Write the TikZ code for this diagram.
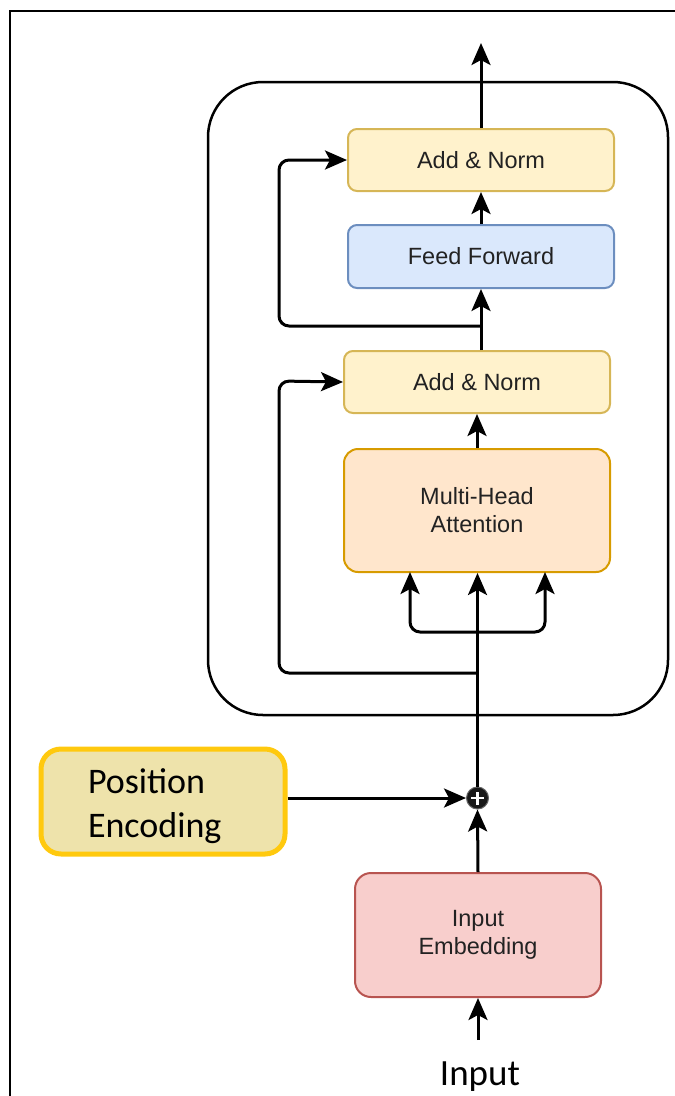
\documentclass[tikz,border=0pt]{standalone}
\usepackage{fontspec}
\setmainfont{Liberation Sans}
\newfontfamily\calibri{Carlito}
\usetikzlibrary{arrows.meta}
\definecolor{normfill}{HTML}{FFF2CC}
\definecolor{normline}{HTML}{D6B656}
\definecolor{fffill}{HTML}{DAE8FC}
\definecolor{ffline}{HTML}{6C8EBF}
\definecolor{attfill}{HTML}{FFE6CC}
\definecolor{attline}{HTML}{D79B00}
\definecolor{embfill}{HTML}{F8CECC}
\definecolor{embline}{HTML}{B85450}
\definecolor{posfill}{HTML}{EEE3AB}
\definecolor{posline}{HTML}{FFC90E}
\definecolor{txt}{HTML}{222222}
\begin{document}
\begin{tikzpicture}[x=1pt,y=-1pt,
  block/.style={draw, line width=2pt, rounded corners=9pt, text=txt,
    font=\fontsize{23.5}{28}\selectfont, align=center, inner sep=0pt},
  wire/.style={line width=3pt, draw=black, rounded corners=10pt},
  arr/.style={wire, -{Stealth[length=22pt,width=19pt,inset=5pt]}}]
\useasboundingbox (0,0) rectangle (675,1096);
% outer frame
\draw[line width=1.5pt] (10,1110) -- (10,11) -- (690,11);
% encoder container
\draw[line width=2.5pt, rounded corners=55pt] (208,82) rectangle (668,715);

% blocks
\node[block, fill=normfill, draw=normline, minimum width=266pt, minimum height=62pt]
  (an1) at (481,160) {Add \& Norm};
\node[block, fill=fffill, draw=ffline, minimum width=266pt, minimum height=63pt]
  (ff) at (481,256.5) {Feed Forward};
\node[block, fill=normfill, draw=normline, minimum width=266pt, minimum height=62pt]
  (an2) at (477,382) {Add \& Norm};
\node[block, fill=attfill, draw=attline, minimum width=266pt, minimum height=123pt,
  rounded corners=14pt] (mha) at (477,510.5) {Multi-Head\\Attention};
\node[block, fill=embfill, draw=embline, minimum width=246pt, minimum height=124pt,
  rounded corners=16pt] (emb) at (478,935) {Input\\Embedding};
\node[block, fill=posfill, draw=posline, line width=5pt, minimum width=244pt,
  minimum height=105pt, rounded corners=20pt] (pos) at (163,801.5) {};
\node[text=black, font=\calibri\fontsize{36}{44}\selectfont, align=left,
  text width=150pt, inner sep=0pt] (postext) at (163,806) {Position\\Encoding};
\node[circle, fill=black!90, draw=black!60, line width=1pt, minimum size=22pt,
  inner sep=0pt] (plus) at (477.5,798) {};
\draw[white, line width=2.8pt] ([xshift=-6.5pt]plus.center) -- ([xshift=6.5pt]plus.center)
  ([yshift=-6.5pt]plus.center) -- ([yshift=6.5pt]plus.center);
\node[font=\calibri\fontsize{37}{44}\selectfont, text=black] (inp) at (480,1077) {Input};

% free ends and junctions
\coordinate (out) at (481,43);
\coordinate (inarrow) at (478,1040);
\coordinate (split) at (477.5,632);
\coordinate (res1) at (477.5,673);
\coordinate (res2) at (481,326);

% data path
\draw[arr] (inarrow) -- (emb.south);
\draw[arr] (emb.north) -- (plus.south);
\draw[arr] (pos.east |- plus.west) -- (plus.west);
\draw[arr] (plus.north) -- (plus.north |- mha.south);
\draw[arr] (split) -- (410,632) -- (410,572);
\draw[arr] (split) -- (545,632) -- (545,572);
\draw[arr] (res1) -- (279,673) -- (279,381) -- (an2.west);
\draw[arr] (mha.north) -- (an2.south);
\draw[arr] (an2.north -| 481,0) -- (ff.south);
\draw[arr] (res2) -- (279,326) -- (279,160) -- (an1.west);
\draw[arr] (ff.north) -- (an1.south);
\draw[arr] (an1.north) -- (out);
\end{tikzpicture}
\end{document}
